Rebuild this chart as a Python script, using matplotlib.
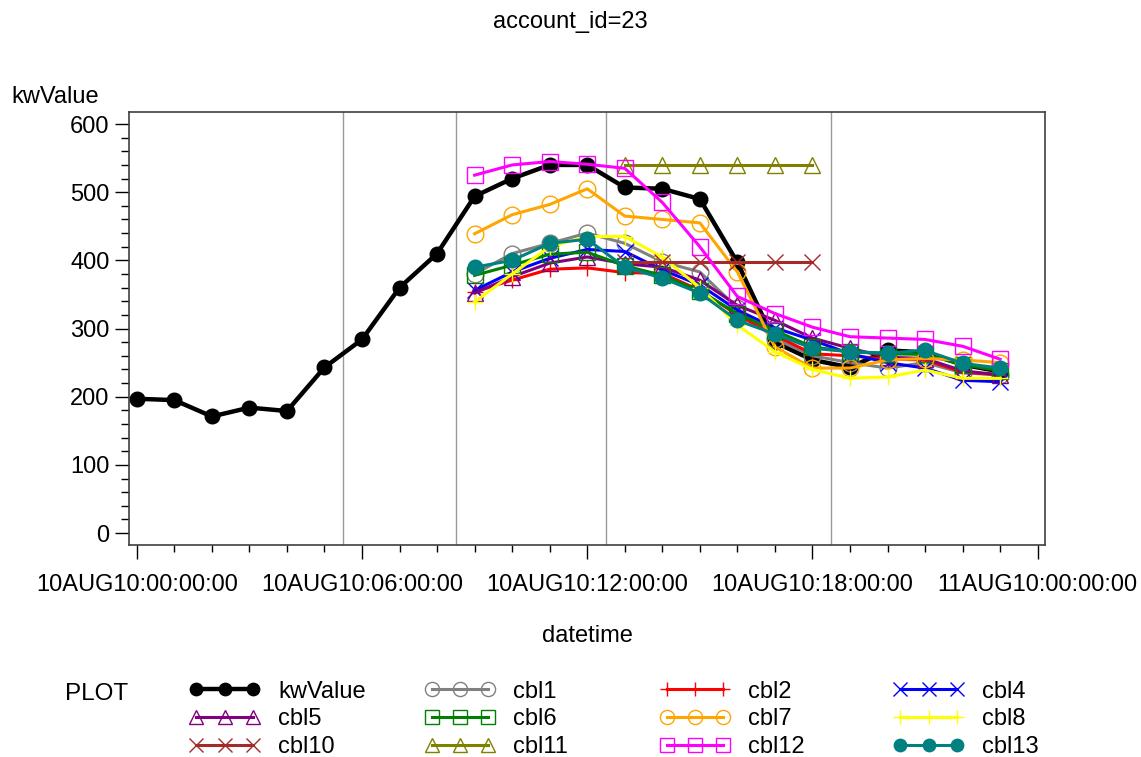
import matplotlib.pyplot as plt

plt.rcParams["font.family"] = ["Liberation Sans", "DejaVu Sans"]

# hours since 10AUG10:00:00:00
hours = list(range(24))
kw_value = [197, 195, 171, 184, 179, 243, 284, 360, 410, 494, 520, 540,
            540, 507, 505, 490, 397, 280, 254, 243, 268, 265, 247, 237]

cbl_hours = list(range(9, 24))
cbl1 = [380, 410, 425, 440, 425, 398, 383, 330, 285, 260, 250, 242, 250, 235, 232]
cbl2 = [354, 371, 387, 389, 382, 381, 356, 320, 290, 263, 260, 255, 254, 236, 232]
cbl4 = [356, 383, 403, 416, 413, 386, 364, 327, 301, 283, 263, 250, 242, 224, 222]
cbl5 = [352, 376, 396, 405, 395, 390, 371, 334, 312, 286, 271, 258, 256, 238, 232]
cbl6 = [378, 393, 409, 412, 392, 378, 355, 322, 297, 273, 266, 263, 262, 247, 238]
cbl7 = [439, 467, 482, 505, 465, 460, 455, 383, 273, 242, 242, 254, 256, 254, 250]
cbl8 = [339, 380, 420, 435, 435, 405, 360, 305, 266, 240, 227, 229, 239, 227, 227]
cbl12 = [525, 540, 545, 541, 535, 485, 420, 347, 322, 302, 288, 286, 284, 274, 255]
cbl13 = [390, 400, 425, 431, 390, 374, 352, 312, 292, 271, 266, 264, 268, 249, 242]

flat_hours = list(range(13, 19))
cbl10 = [397, 397, 397, 397, 397, 397]
cbl11 = [540, 540, 540, 540, 540, 540]

ref_lines = [5.5, 8.5, 12.5, 18.5]
tick_hours = [0, 6, 12, 18, 24]
tick_labels = ["10AUG10:00:00:00", "10AUG10:06:00:00", "10AUG10:12:00:00",
               "10AUG10:18:00:00", "11AUG10:00:00:00"]

# name, x, y, color, marker, filled
series = [
    ("kwValue", hours, kw_value, "black", "o", True),
    ("cbl1", cbl_hours, cbl1, "#808080", "o", False),
    ("cbl2", cbl_hours, cbl2, "#ff0000", "+", False),
    ("cbl4", cbl_hours, cbl4, "#0000ff", "x", False),
    ("cbl5", cbl_hours, cbl5, "#800080", "^", False),
    ("cbl6", cbl_hours, cbl6, "#008000", "s", False),
    ("cbl7", cbl_hours, cbl7, "#ffa500", "o", False),
    ("cbl8", cbl_hours, cbl8, "#ffff00", "+", False),
    ("cbl10", flat_hours, cbl10, "#a52a2a", "x", False),
    ("cbl11", flat_hours, cbl11, "#808000", "^", False),
    ("cbl12", cbl_hours, cbl12, "#ff00ff", "s", False),
    ("cbl13", cbl_hours, cbl13, "#008080", "o", True),
]

fig = plt.figure(figsize=(11.41, 7.57), dpi=100)
ax = fig.add_axes([0.113, 0.28, 0.803, 0.572])

for xv in ref_lines:
    ax.axvline(xv, color="#999999", lw=1, zorder=0)

handles = {}
for name, xs, ys, color, marker, filled in series:
    lw = 3.2 if name == "kwValue" else 2.2
    ms = 10.5 if filled else 12
    (ln,) = ax.plot(xs, ys, color=color, lw=lw, marker=marker, markersize=ms,
                    markerfacecolor=color if filled else "none",
                    markeredgecolor=color, markeredgewidth=1.0)
    handles[name] = ln

ax.set_xlim(-0.21, 24.2)
ax.set_ylim(-17.6, 617.6)
ax.set_xticks(tick_hours)
ax.set_xticklabels(tick_labels)
ax.set_xticks(range(25), minor=True)
ax.set_yticks(range(0, 601, 100))
ax.set_yticks(range(0, 601, 20), minor=True)
ax.tick_params(axis="both", which="major", labelsize=17)
ax.tick_params(axis="x", which="major", length=10, width=1, pad=11)
ax.tick_params(axis="x", which="minor", length=5, width=1)
ax.tick_params(axis="y", which="major", length=10, width=1, pad=4)
ax.tick_params(axis="y", which="minor", length=6, width=1)
for sp in ax.spines.values():
    sp.set_color("#404040")
    sp.set_linewidth(1.2)

ax.set_xlabel("datetime", fontsize=17, labelpad=21)
fig.text(0.01, 0.872, "kwValue", fontsize=17, ha="left", va="center")
fig.suptitle("account_id=23", fontsize=17, y=0.985)

# legend laid out row by row, one legend per column
fig.text(0.057, 0.083, "PLOT", fontsize=17.5, ha="left", va="center")
legend_cols = [["kwValue", "cbl5", "cbl10"], ["cbl1", "cbl6", "cbl11"],
               ["cbl2", "cbl7", "cbl12"], ["cbl4", "cbl8", "cbl13"]]
col_x = [0.166, 0.372, 0.578, 0.783]
for cx, names in zip(col_x, legend_cols):
    fig.legend([handles[n] for n in names], names, loc="upper left",
               bbox_to_anchor=(cx, 0.101), frameon=False, fontsize=17,
               numpoints=3, markerscale=0.85, handlelength=3.0,
               handletextpad=0.75, labelspacing=0.25, borderpad=0,
               borderaxespad=0)

plt.savefig("out.png", dpi=100)
